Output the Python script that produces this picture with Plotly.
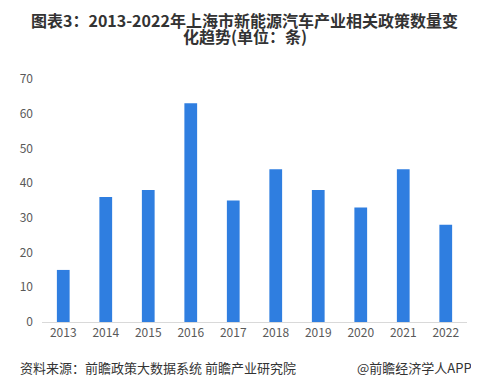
import plotly.graph_objects as go

years = ["2013", "2014", "2015", "2016", "2017", "2018", "2019", "2020", "2021", "2022"]
counts = [15, 36, 38, 63, 35, 44, 38, 33, 44, 28]
y_ticks = [0, 10, 20, 30, 40, 50, 60, 70]

title_line1 = "图表3：2013-2022年上海市新能源汽车产业相关政策数量变"
title_line2 = "化趋势(单位：条)"
source_text = "资料来源：前瞻政策大数据系统 前瞻产业研究院"
credit_text = "@前瞻经济学人APP"

font_cjk = "Noto Sans CJK SC, Microsoft YaHei, sans-serif"

# page body has an 8px default margin; figure sized to fit the window
W, H = 471, 380
ML, MR, MT, MB = 25, 12, 71, 66
PW, PH = W - ML - MR, H - MT - MB


def px_x(p):
    return (p - ML) / PW


def px_y(p):
    return (H - MB - p) / PH


fig = go.Figure(go.Bar(
    x=years, y=counts,
    marker=dict(color="#2F7EE0", line=dict(width=0)),
    width=0.3,
))

fig.update_layout(
    width=W, height=H,
    margin=dict(l=ML, r=MR, t=MT, b=MB),
    paper_bgcolor="white", plot_bgcolor="white",
    showlegend=False,
    font=dict(family=font_cjk, color="#595959", size=12),
    xaxis=dict(
        type="category", showgrid=False, showline=True,
        linecolor="#D9D9D9", linewidth=1, ticks="",
        tickfont=dict(size=12, color="#595959"),
    ),
    yaxis=dict(
        range=[0, 70], tickvals=y_ticks, showgrid=False,
        zeroline=False, showline=False, ticks="",
        ticklabelstandoff=8,
        tickfont=dict(size=12, color="#595959"),
    ),
    annotations=[
        dict(text="<b>" + title_line1 + "</b>", xref="paper", yref="paper",
             x=px_x(232), y=px_y(12), xanchor="center", yanchor="middle",
             showarrow=False, font=dict(family=font_cjk, size=16, color="#333333")),
        dict(text="<b>" + title_line2 + "</b>", xref="paper", yref="paper",
             x=px_x(232), y=px_y(28), xanchor="center", yanchor="middle",
             showarrow=False, font=dict(family=font_cjk, size=16, color="#333333")),
        dict(text=source_text, xref="paper", yref="paper",
             x=px_x(0), y=px_y(359), xanchor="left", yanchor="middle",
             showarrow=False, font=dict(family=font_cjk, size=13, color="#333333")),
        dict(text=credit_text, xref="paper", yref="paper",
             x=px_x(466), y=px_y(359), xanchor="right", yanchor="middle",
             showarrow=False, font=dict(family=font_cjk, size=13, color="#333333")),
    ],
)

fig.write_html("out.html")
